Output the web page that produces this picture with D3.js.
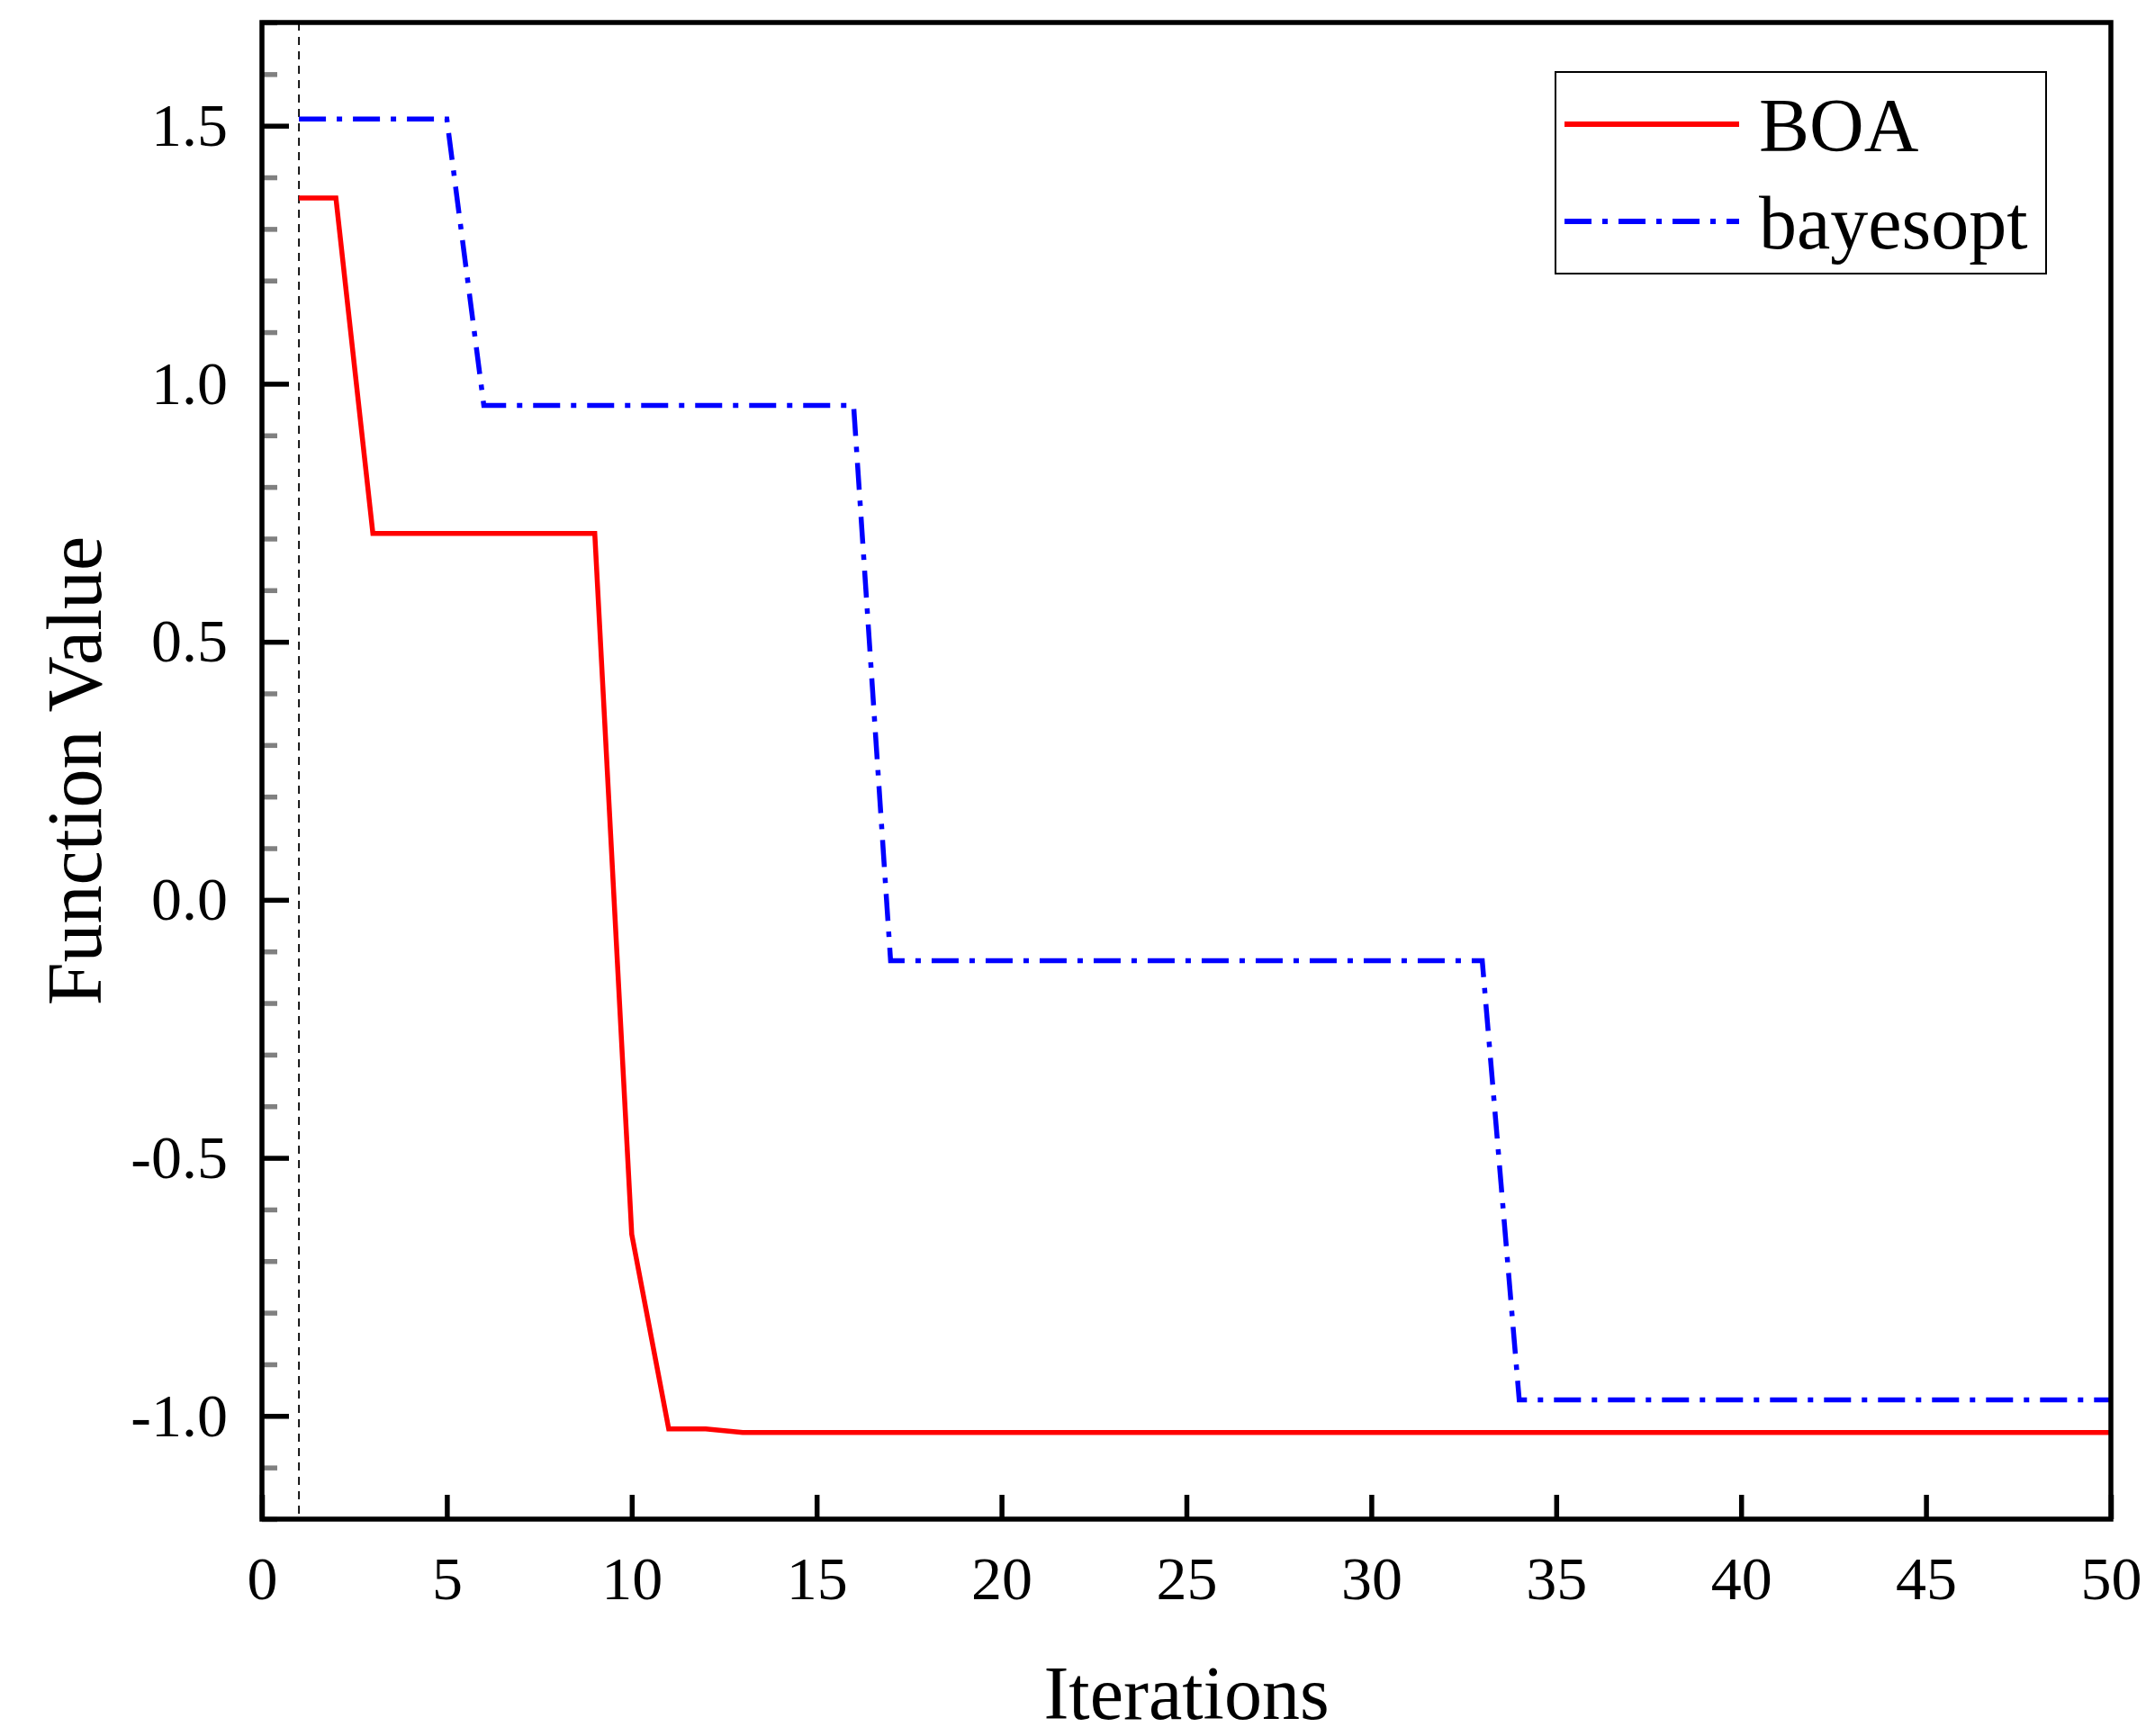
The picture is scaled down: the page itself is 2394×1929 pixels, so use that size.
<!DOCTYPE html>
<html>
<head>
<meta charset="utf-8">
<script src="https://cdn.jsdelivr.net/npm/d3@7"></script>
<style>
  body { margin: 0; background: #fff; }
  text { font-family: "Liberation Serif", "Times New Roman", serif; fill: #000; }
</style>
</head>
<body>
<div id="chart"></div>
<script>
// data
const iterations = d3.range(1, 51);
const boaValues = [1.36, 1.36, 0.71, 0.71, 0.71, 0.71, 0.71, 0.71, 0.71, -0.648,
  -1.025, -1.025, -1.032, -1.032, -1.032, -1.032, -1.032, -1.032, -1.032, -1.032,
  -1.032, -1.032, -1.032, -1.032, -1.032, -1.032, -1.032, -1.032, -1.032, -1.032,
  -1.032, -1.032, -1.032, -1.032, -1.032, -1.032, -1.032, -1.032, -1.032, -1.032,
  -1.032, -1.032, -1.032, -1.032, -1.032, -1.032, -1.032, -1.032, -1.032, -1.032];
const bayesoptValues = [1.513, 1.513, 1.513, 1.513, 1.513, 0.958, 0.958, 0.958, 0.958, 0.958,
  0.958, 0.958, 0.958, 0.958, 0.958, 0.958, -0.118, -0.118, -0.118, -0.118,
  -0.118, -0.118, -0.118, -0.118, -0.118, -0.118, -0.118, -0.118, -0.118, -0.118,
  -0.118, -0.118, -0.118, -0.969, -0.969, -0.969, -0.969, -0.969, -0.969, -0.969,
  -0.969, -0.969, -0.969, -0.969, -0.969, -0.969, -0.969, -0.969, -0.969, -0.969];
const seriesNames = ['BOA', 'bayesopt'];
const xTicks = [0, 5, 10, 15, 20, 25, 30, 35, 40, 45, 50];
const yTicks = [-1.0, -0.5, 0.0, 0.5, 1.0, 1.5];
const yMinorTicks = d3.range(-12, 18).map(d => d / 10).filter(d => Math.round(d * 10) % 5 !== 0);

const W = 2394, H = 1929;
const margin = { top: 25, right: 49, bottom: 241, left: 291 },
  width = W - margin.left - margin.right,
  height = H - margin.top - margin.bottom;

const svg = d3.select('#chart')
  .append('svg')
  .attr('width', W)
  .attr('height', H);

const g = svg.append('g')
  .attr('transform', `translate(${margin.left},${margin.top})`);

const x = d3.scaleLinear().domain([0, 50]).range([0, width]);
const y = d3.scaleLinear().domain([-1.2, 1.7]).range([height, 0]);

// hyphen instead of the unicode minus, like the original
const fmt = d => d3.format('.1f')(d).replace('\u2212', '-');

// dashed marker at iteration 1
g.append('line')
  .attr('x1', x(1)).attr('x2', x(1))
  .attr('y1', 0).attr('y2', height)
  .attr('stroke', '#000')
  .attr('stroke-width', 1.8)
  .attr('stroke-dasharray', '9,7');

// lines
const line = d3.line()
  .x((d, i) => x(iterations[i]))
  .y(d => y(d));

g.append('path')
  .datum(bayesoptValues)
  .attr('fill', 'none')
  .attr('stroke', '#0000ff')
  .attr('stroke-width', 5.5)
  .attr('stroke-dasharray', '30,12,6,12')
  .attr('d', line);

g.append('path')
  .datum(boaValues)
  .attr('fill', 'none')
  .attr('stroke', '#ff0000')
  .attr('stroke-width', 5.5)
  .attr('stroke-linejoin', 'miter')
  .attr('d', line);

// minor y ticks (gray, inside)
g.append('g')
  .call(d3.axisLeft(y).tickValues(yMinorTicks).tickSize(-17).tickFormat(''))
  .call(a => a.select('.domain').remove())
  .call(a => a.selectAll('line').attr('stroke', '#808080').attr('stroke-width', 5.5));

// major y axis
g.append('g')
  .call(d3.axisLeft(y).tickValues(yTicks).tickSize(-30).tickSizeOuter(0).tickPadding(38)
    .tickFormat(fmt))
  .call(a => a.select('.domain').remove())
  .call(a => a.selectAll('line').attr('stroke', '#000').attr('stroke-width', 5.5))
  .call(a => a.selectAll('text').attr('font-size', 68));

// x axis
g.append('g')
  .attr('transform', `translate(0,${height})`)
  .call(d3.axisBottom(x).tickValues(xTicks).tickSize(-27).tickSizeOuter(0).tickPadding(41))
  .call(a => a.select('.domain').remove())
  .call(a => a.selectAll('line').attr('stroke', '#000').attr('stroke-width', 5.5))
  .call(a => a.selectAll('text').attr('font-size', 68));

// frame
g.append('rect')
  .attr('x', 0).attr('y', 0)
  .attr('width', width).attr('height', height)
  .attr('fill', 'none')
  .attr('stroke', '#000')
  .attr('stroke-width', 5.5);

// axis titles
svg.append('text')
  .attr('x', margin.left + width / 2)
  .attr('y', 1910)
  .attr('text-anchor', 'middle')
  .attr('font-size', 84)
  .text('Iterations');

svg.append('text')
  .attr('transform', `translate(112,${margin.top + height / 2}) rotate(-90)`)
  .attr('text-anchor', 'middle')
  .attr('font-size', 86)
  .text('Function Value');

// legend
const legend = svg.append('g').attr('transform', 'translate(1728,80)');
legend.append('rect')
  .attr('width', 545).attr('height', 224)
  .attr('fill', '#fff')
  .attr('stroke', '#000')
  .attr('stroke-width', 2);

const legendStyles = [
  { color: '#ff0000', dash: null },
  { color: '#0000ff', dash: '30,12,6,12' }
];
seriesNames.forEach((name, i) => {
  const cy = 58 + i * 108;
  legend.append('line')
    .attr('x1', 10).attr('x2', 204)
    .attr('y1', cy).attr('y2', cy)
    .attr('stroke', legendStyles[i].color)
    .attr('stroke-width', 6)
    .attr('stroke-dasharray', legendStyles[i].dash);
  legend.append('text')
    .attr('x', 226)
    .attr('y', cy + 30)
    .attr('font-size', 84)
    .text(name);
});
</script>
</body>
</html>
